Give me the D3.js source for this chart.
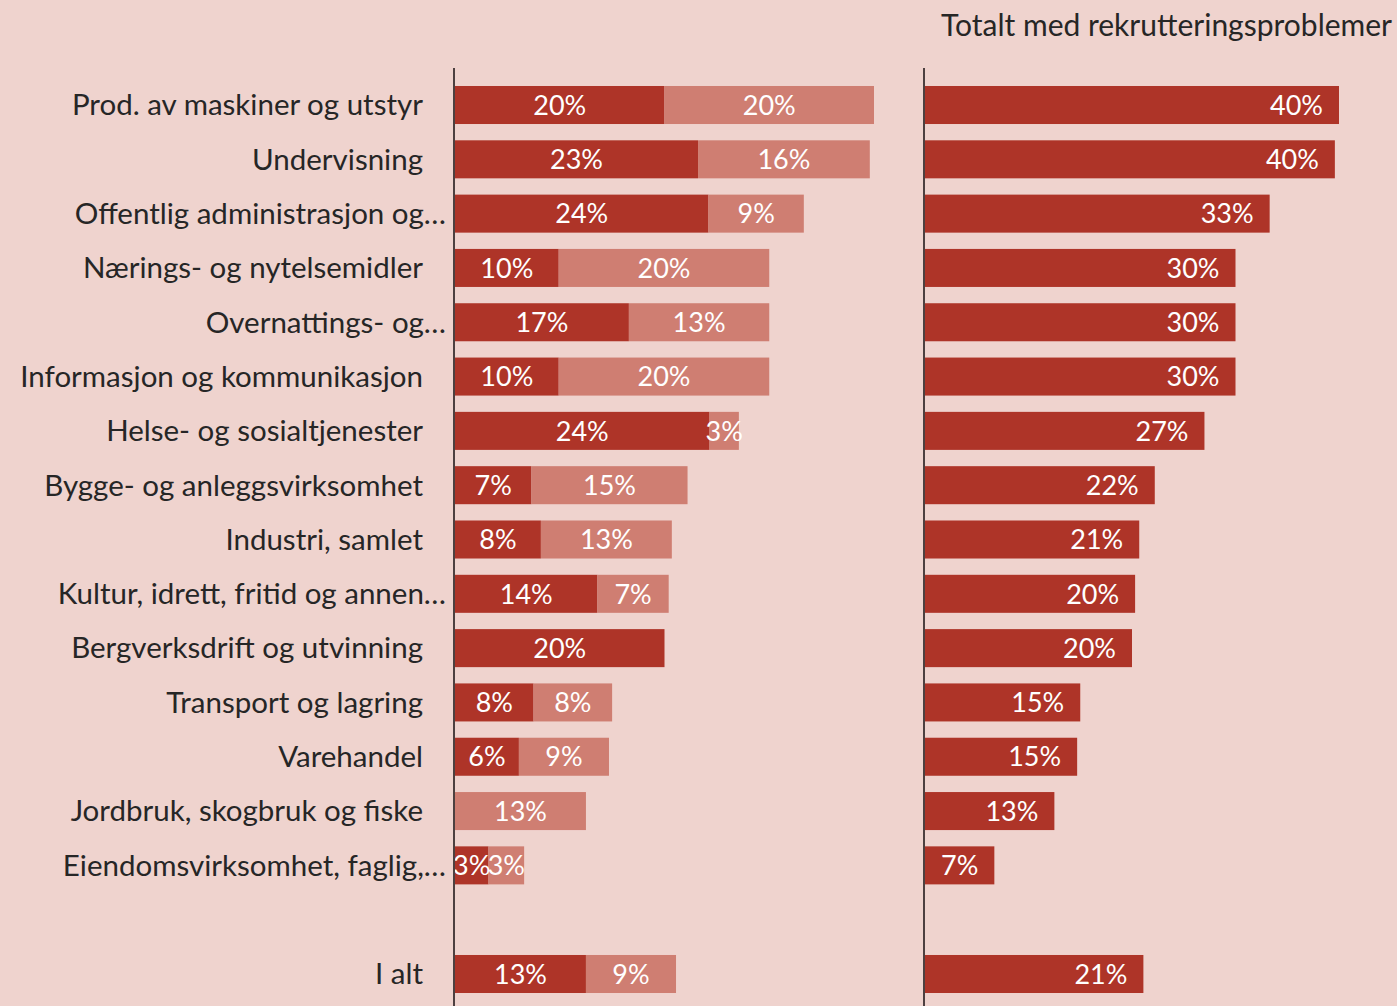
<!DOCTYPE html>
<html>
<head>
<meta charset="utf-8">
<script src="https://cdn.jsdelivr.net/npm/d3@7"></script>
<style>
  body { margin: 0; background: #efd3ce; }
  svg { display: block; }
</style>
</head>
<body>
<div id="chart"></div>
<script>
// categories, top to bottom (last one "I alt" is drawn after a gap)
var categories = [
  "Prod. av maskiner og utstyr",
  "Undervisning",
  "Offentlig administrasjon og…",
  "Nærings- og nytelsemidler",
  "Overnattings- og…",
  "Informasjon og kommunikasjon",
  "Helse- og sosialtjenester",
  "Bygge- og anleggsvirksomhet",
  "Industri, samlet",
  "Kultur, idrett, fritid og annen…",
  "Bergverksdrift og utvinning",
  "Transport og lagring",
  "Varehandel",
  "Jordbruk, skogbruk og fiske",
  "Eiendomsvirksomhet, faglig,…",
  "I alt"
];

// dark segment (first series), light segment (second series), in percent
var seriesA = [20.0, 23.2, 24.2, 9.9, 16.6, 9.9, 24.3, 7.3, 8.2, 13.6, 20.0, 7.5, 6.1, 0, 3.2, 12.5];
var seriesB = [20.0, 16.4, 9.1, 20.1, 13.4, 20.1, 2.8, 14.9, 12.5, 6.8, 0, 7.5, 8.6, 12.5, 3.4, 8.6];

// right panel: total with recruitment problems
var totals = [40.0, 39.6, 33.3, 30.0, 30.0, 30.0, 27.0, 22.2, 20.7, 20.3, 20.0, 15.0, 14.7, 12.5, 6.7, 21.1];

var rightTitle = "Totalt med rekrutteringsproblemer";

var W = 1397, H = 1006;
var darkCol = "#ae3428", lightCol = "#cf7e72", textCol = "#262626", axisCol = "#4d4040";
var fontFam = "Lato, 'Open Sans', sans-serif";

var svg = d3.select("#chart").append("svg")
    .attr("width", W)
    .attr("height", H)
    .style("background", "#efd3ce");

// band domain with an empty slot before "I alt"
var domain = categories.slice(0, categories.length - 1).concat(["__gap"], [categories[categories.length - 1]]);

var y = d3.scaleBand()
    .domain(domain)
    .range([77.85, 1001.15])
    .paddingInner(0.3)
    .paddingOuter(0.15);

var xL = d3.scaleLinear().domain([0, 40]).range([455, 874]);
var xR = d3.scaleLinear().domain([0, 40]).range([925, 1339]);

var data = categories.map(function(c, i){
  return {cat: c, a: seriesA[i], b: seriesB[i], t: totals[i]};
});

function pct(v){ return Math.round(v) + "%"; }

// category labels
svg.append("g").selectAll("text")
  .data(data)
  .enter().append("text")
    .attr("x", function(d){ return /…$/.test(d.cat) ? 446 : 423; })
    .attr("y", function(d){ return y(d.cat) + y.bandwidth() / 2; })
    .attr("dy", "0.35em")
    .attr("text-anchor", "end")
    .style("font-family", fontFam)
    .style("font-size", "29.5px")
    .style("fill", textCol)
    .text(function(d){ return d.cat; });

// left panel stacked bars
var left = svg.append("g");

left.selectAll("rect.a")
  .data(data.filter(function(d){ return d.a > 0; }))
  .enter().append("rect")
    .attr("class", "a")
    .attr("x", xL(0))
    .attr("y", function(d){ return y(d.cat); })
    .attr("width", function(d){ return xL(d.a) - xL(0); })
    .attr("height", y.bandwidth())
    .style("fill", darkCol);

left.selectAll("rect.b")
  .data(data.filter(function(d){ return d.b > 0; }))
  .enter().append("rect")
    .attr("class", "b")
    .attr("x", function(d){ return xL(d.a); })
    .attr("y", function(d){ return y(d.cat); })
    .attr("width", function(d){ return xL(d.a + d.b) - xL(d.a); })
    .attr("height", y.bandwidth())
    .style("fill", lightCol);

left.selectAll("text.a")
  .data(data.filter(function(d){ return d.a > 0; }))
  .enter().append("text")
    .attr("class", "a")
    .attr("x", function(d){ return (xL(0) + xL(d.a)) / 2; })
    .attr("y", function(d){ return y(d.cat) + y.bandwidth() / 2; })
    .attr("dy", "0.36em")
    .attr("text-anchor", "middle")
    .style("font-family", fontFam)
    .style("font-size", "27px")
    .style("fill", "#fff")
    .text(function(d){ return pct(d.a); });

left.selectAll("text.b")
  .data(data.filter(function(d){ return d.b > 0; }))
  .enter().append("text")
    .attr("class", "b")
    .attr("x", function(d){ return (xL(d.a) + xL(d.a + d.b)) / 2; })
    .attr("y", function(d){ return y(d.cat) + y.bandwidth() / 2; })
    .attr("dy", "0.36em")
    .attr("text-anchor", "middle")
    .style("font-family", fontFam)
    .style("font-size", "27px")
    .style("fill", "#fff")
    .text(function(d){ return pct(d.b); });

// right panel totals
var right = svg.append("g");

right.selectAll("rect")
  .data(data)
  .enter().append("rect")
    .attr("x", xR(0))
    .attr("y", function(d){ return y(d.cat); })
    .attr("width", function(d){ return xR(d.t) - xR(0); })
    .attr("height", y.bandwidth())
    .style("fill", darkCol);

right.selectAll("text")
  .data(data)
  .enter().append("text")
    .attr("x", function(d){ return xR(d.t) - 16; })
    .attr("y", function(d){ return y(d.cat) + y.bandwidth() / 2; })
    .attr("dy", "0.36em")
    .attr("text-anchor", "end")
    .style("font-family", fontFam)
    .style("font-size", "27px")
    .style("fill", "#fff")
    .text(function(d){ return pct(d.t); });

// vertical axis lines
[xL(0) - 1, xR(0) - 1].forEach(function(x){
  svg.append("line")
    .attr("x1", x).attr("x2", x)
    .attr("y1", 68).attr("y2", H)
    .style("stroke", axisCol)
    .style("stroke-width", 2);
});

// title above right panel
svg.append("text")
    .attr("x", 1392)
    .attr("y", 36)
    .attr("text-anchor", "end")
    .style("font-family", fontFam)
    .style("font-size", "30px")
    .style("fill", textCol)
    .text(rightTitle);
</script>
</body>
</html>
